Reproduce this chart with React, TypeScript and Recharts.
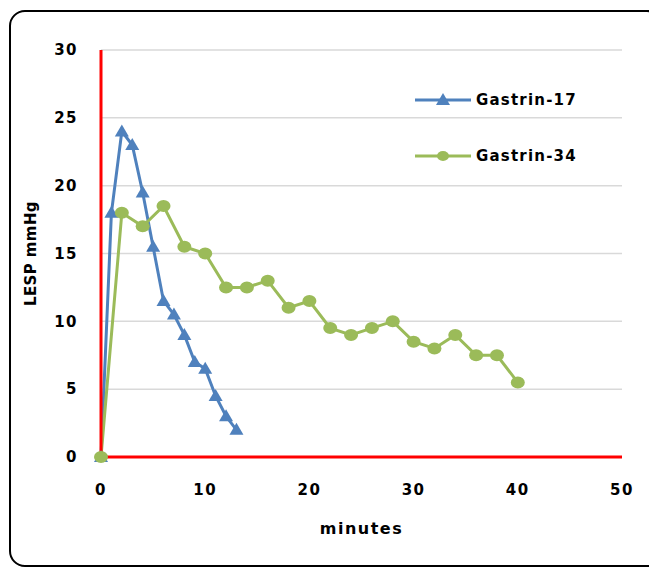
import * as React from 'react';
import { LineChart, Line, XAxis, YAxis, CartesianGrid, Legend } from 'recharts';

// minutes after injection
const g17Minutes = [0, 1, 2, 3, 4, 5, 6, 7, 8, 9, 10, 11, 12, 13];
const g17Values = [0, 18, 24, 23, 19.5, 15.5, 11.5, 10.5, 9, 7, 6.5, 4.5, 3, 2];

const g34Minutes = [0, 2, 4, 6, 8, 10, 12, 14, 16, 18, 20, 22, 24, 26, 28, 30, 32, 34, 36, 38, 40];
const g34Values = [0, 18, 17, 18.5, 15.5, 15, 12.5, 12.5, 13, 11, 11.5, 9.5, 9, 9.5, 10, 8.5, 8, 9, 7.5, 7.5, 5.5];

const xTicks = [0, 10, 20, 30, 40, 50];
const yTicks = [0, 5, 10, 15, 20, 25, 30];

const BLUE = '#4f81bd';
const GREEN = '#9bbb59';
const FONT = '"DejaVu Sans", sans-serif';

const g17Data = g17Minutes.map((m, i) => ({ minute: m, value: g17Values[i] }));
const g34Data = g34Minutes.map((m, i) => ({ minute: m, value: g34Values[i] }));

const Triangle = (props: any) => {
  const { cx, cy } = props;
  if (cx == null || cy == null) return null;
  return <path d={`M${cx},${cy - 7} L${cx + 7},${cy + 5} L${cx - 7},${cy + 5} Z`} fill={BLUE} />;
};

const Circle = (props: any) => {
  const { cx, cy } = props;
  if (cx == null || cy == null) return null;
  return <ellipse cx={cx} cy={cy} rx={7} ry={6} fill={GREEN} />;
};

function CustomLegend() {
  const items = [
    { name: 'Gastrin-17', color: BLUE, marker: 'tri' },
    { name: 'Gastrin-34', color: GREEN, marker: 'dot' },
  ];
  return (
    <div style={{ fontFamily: FONT, fontWeight: 700, fontSize: 15, letterSpacing: 1.2, color: '#000' }}>
      {items.map((it, i) => (
        <div key={it.name} style={{ display: 'flex', alignItems: 'center', height: 20, marginBottom: i === 0 ? 36 : 0 }}>
          <svg width={56} height={20} style={{ marginRight: 5 }}>
            <line x1={0} y1={10} x2={56} y2={10} stroke={it.color} strokeWidth={3} />
            {it.marker === 'tri' ? (
              <path d="M28,3 L35,15 L21,15 Z" fill={it.color} />
            ) : (
              <ellipse cx={28} cy={10} rx={6} ry={5} fill={it.color} />
            )}
          </svg>
          <span>{it.name}</span>
        </div>
      ))}
    </div>
  );
}

export default function App() {
  const tickStyle = { fill: '#000', fontSize: 15, fontWeight: 700, fontFamily: FONT, letterSpacing: 1.5 };
  return (
    <div style={{ position: 'absolute', left: 0, top: 0, width: 649, height: 567, background: '#fff', overflow: 'hidden' }}>
      <div
        style={{
          position: 'absolute',
          left: 9,
          top: 10,
          width: 650,
          height: 553,
          border: '2px solid #000',
          borderRadius: 16,
        }}
      />
      <LineChart
        width={649}
        height={567}
        margin={{ top: 50, right: 27, left: 20, bottom: 30 }}
        style={{ position: 'absolute', left: 0, top: 0 }}
      >
        <CartesianGrid vertical={false} stroke="#d9d9d9" strokeWidth={1.5} />
        <XAxis
          type="number"
          dataKey="minute"
          domain={[0, 50]}
          ticks={xTicks}
          allowDuplicatedCategory={false}
          height={80}
          tickSize={0}
          tickMargin={27}
          tickLine={false}
          axisLine={{ stroke: '#ff0000', strokeWidth: 3 }}
          tick={tickStyle}
          label={{
            value: 'minutes',
            position: 'insideBottom',
            offset: 3,
            style: { fill: '#000', fontSize: 16, fontWeight: 700, fontFamily: FONT, letterSpacing: 1.5 },
          }}
        />
        <YAxis
          type="number"
          domain={[0, 30]}
          ticks={yTicks}
          width={81}
          tickSize={0}
          tickMargin={23}
          tickLine={false}
          axisLine={{ stroke: '#ff0000', strokeWidth: 3 }}
          tick={tickStyle}
          label={{
            value: 'LESP mmHg',
            angle: -90,
            position: 'insideLeft',
            offset: 11,
            style: { fill: '#000', fontSize: 15, fontWeight: 700, fontFamily: FONT, letterSpacing: 0.4, textAnchor: 'middle' },
          }}
        />
        <Legend
          layout="horizontal"
          verticalAlign="middle"
          align="center"
          content={<CustomLegend />}
          wrapperStyle={{ left: 415, top: 90, width: 220 }}
        />
        <Line
          data={g17Data}
          dataKey="value"
          name="Gastrin-17"
          stroke={BLUE}
          strokeWidth={3}
          dot={<Triangle />}
          activeDot={false}
          isAnimationActive={false}
        />
        <Line
          data={g34Data}
          dataKey="value"
          name="Gastrin-34"
          stroke={GREEN}
          strokeWidth={3}
          dot={<Circle />}
          activeDot={false}
          isAnimationActive={false}
        />
      </LineChart>
    </div>
  );
}
